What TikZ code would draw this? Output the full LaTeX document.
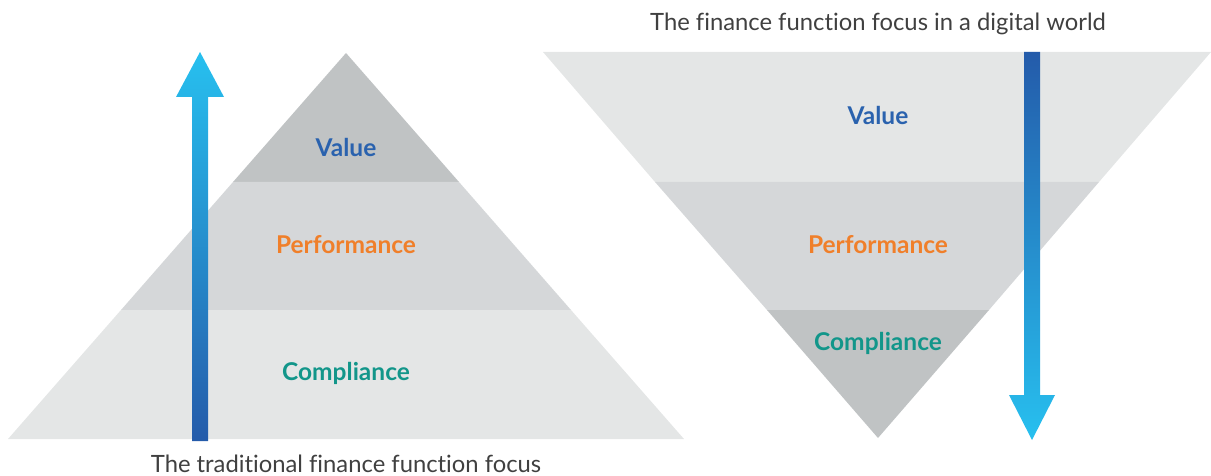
\documentclass[tikz,border=0pt]{standalone}
\usepackage{fontspec}
\setmainfont{Lato}[Ligatures=NoCommon]
\usepackage{tikz}
\usetikzlibrary{positioning}

\definecolor{valueblue}{HTML}{2A62AE}
\definecolor{perforange}{HTML}{F07F2A}
\definecolor{complteal}{HTML}{12968A}
\definecolor{banddark}{HTML}{C0C3C4}
\definecolor{bandmid}{HTML}{D5D7D9}
\definecolor{bandlight}{HTML}{E4E6E6}
\definecolor{arrowdeep}{HTML}{245BAA}
\definecolor{arrowmid}{HTML}{1C92D6}
\definecolor{arrowsky}{HTML}{27C0EF}

\begin{document}
\begin{tikzpicture}[x=1pt, y=-1pt,
    level/.style={font=\bfseries\fontsize{24.5}{28}\selectfont, inner sep=0pt},
    caption/.style={font=\fontsize{23.8}{28}\selectfont, text=black!75, inner sep=0pt},
    bigarrow/.style={bottom color=arrowdeep, middle color=arrowmid, top color=arrowsky},
    downarrow/.style={top color=arrowdeep, middle color=arrowmid, bottom color=arrowsky}
]
\useasboundingbox (0,0) rectangle (1211,476);

% Left pyramid: the traditional focus
\fill[banddark] (346,53) -- (459,182) -- (233,182) -- cycle;
\fill[bandmid] (233,182) -- (459,182) -- (571,310) -- (121,310) -- cycle;
\fill[bandlight] (121,310) -- (571,310) -- (684,439) -- (8,439) -- cycle;

% Right pyramid, upside down: the digital focus
\fill[bandlight] (543,52) -- (1211,52) -- (1099,182) -- (655,182) -- cycle;
\fill[bandmid] (655,182) -- (1099,182) -- (989,310) -- (767,310) -- cycle;
\fill[banddark] (767,310) -- (989,310) -- (878,438) -- cycle;

% Upward arrow
\shade[bigarrow] (192,441) -- (208,441) -- (208,97) -- (224,97) -- (200,52)
    -- (176,97) -- (192,97) -- cycle;

% Downward arrow
\shade[downarrow] (1024,52) -- (1040,52) -- (1040,395) -- (1055,395) -- (1032,440)
    -- (1009,395) -- (1024,395) -- cycle;

% Level labels
\node[level, text=valueblue] (lvalue) at (346,147) {Value};
\node[level, text=perforange] (lperf) at (346,245) {Performance};
\node[level, text=complteal] (lcompl) at (346,373) {Compliance};
\node[level, text=valueblue] (rvalue) at (878,115) {Value};
\node[level, text=perforange] (rperf) at (878,245) {Performance};
\node[level, text=complteal] (rcompl) at (878,343) {Compliance};

% Captions
\node[caption] (ltitle) at (346,464) {The traditional finance function focus};
\node[caption] (rtitle) at (878,24) {The finance function focus in a digital world};

\end{tikzpicture}
\end{document}
